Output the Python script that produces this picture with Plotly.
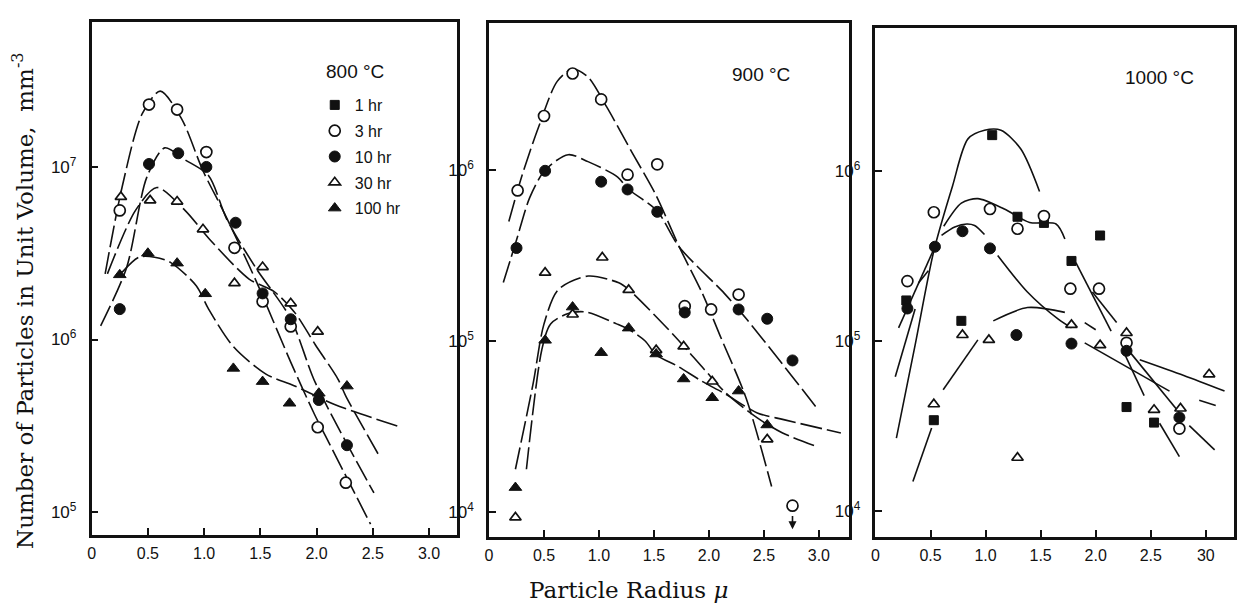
import math
import plotly.graph_objects as go

W, H = 1237, 608

# ---------------- 800 °C : measured points ----------------
p800_3hr_x = [0.25, 0.51, 0.76, 1.02, 1.27, 1.52, 1.77, 2.01, 2.26]
p800_3hr_y = [5.6e6, 2.3e7, 2.15e7, 1.22e7, 3.4e6, 1.66e6, 1.19e6, 3.1e5, 1.48e5]
p800_10hr_x = [0.25, 0.51, 0.77, 1.02, 1.28, 1.52, 1.77, 2.02, 2.27]
p800_10hr_y = [1.5e6, 1.04e7, 1.2e7, 1.0e7, 4.75e6, 1.85e6, 1.31e6, 4.46e5, 2.44e5]
p800_30hr_x = [0.26, 0.52, 0.76, 0.99, 1.27, 1.52, 1.77, 2.01]
p800_30hr_y = [6.7e6, 6.4e6, 6.3e6, 4.35e6, 2.12e6, 2.63e6, 1.62e6, 1.11e6]
p800_100hr_x = [0.25, 0.50, 0.76, 1.01, 1.26, 1.52, 1.76, 2.02, 2.27]
p800_100hr_y = [2.37e6, 3.16e6, 2.77e6, 1.84e6, 6.8e5, 5.7e5, 4.27e5, 4.88e5, 5.37e5]

# ---------------- 800 °C : hand-drawn curves ----------------
c800_3hr_x = [0.12, 0.27, 0.45, 0.61, 0.80, 0.99, 1.18, 1.46, 1.77, 1.98, 2.08, 2.48]
c800_3hr_y = [2.4e6, 7.6e6, 2.04e7, 2.75e7, 1.9e7, 9.5e6, 5.4e6, 2.2e6, 7.4e5, 3.7e5, 2.75e5, 8.5e4]
c800_10hr_x = [0.08, 0.31, 0.49, 0.65, 0.83, 1.04, 1.20, 1.46, 1.77, 1.99, 2.51]
c800_10hr_y = [1.2e6, 2.6e6, 8.7e6, 1.29e7, 1.1e7, 8.9e6, 5.0e6, 2.6e6, 1.32e6, 5.6e5, 1.29e5]
c800_30hr_x = [0.14, 0.39, 0.58, 0.83, 1.05, 1.40, 1.62, 1.80, 1.99, 2.19, 2.26, 2.56]
c800_30hr_y = [2.4e6, 5.6e6, 7.6e6, 5.6e6, 3.8e6, 2.24e6, 1.9e6, 1.45e6, 9.3e5, 5.9e5, 4.7e5, 2.1e5]
c800_100hr_x = [0.27, 0.42, 0.56, 0.70, 0.93, 1.04, 1.26, 1.55, 1.80, 2.16, 2.75]
c800_100hr_y = [2.45e6, 3.0e6, 3.0e6, 2.8e6, 2.05e6, 1.5e6, 9.1e5, 6.3e5, 5.4e5, 4.2e5, 3.1e5]

# ---------------- 900 °C : measured points ----------------
p900_3hr_x = [0.26, 0.50, 0.76, 1.02, 1.26, 1.53, 1.78, 2.02, 2.27, 2.76]
p900_3hr_y = [7.6e5, 2.07e6, 3.67e6, 2.59e6, 9.4e5, 1.08e6, 1.6e5, 1.53e5, 1.87e5, 1.09e4]
p900_10hr_x = [0.25, 0.51, 1.02, 1.26, 1.53, 1.78, 2.27, 2.53, 2.76]
p900_10hr_y = [3.5e5, 9.9e5, 8.55e5, 7.7e5, 5.7e5, 1.47e5, 1.53e5, 1.35e5, 7.7e4]
p900_30hr_x = [0.24, 0.51, 0.76, 1.03, 1.27, 1.52, 1.77, 2.03, 2.53]
p900_30hr_y = [9.3e3, 2.51e5, 1.43e5, 3.08e5, 1.99e5, 8.85e4, 9.3e4, 5.8e4, 2.66e4]
p900_100hr_x = [0.24, 0.51, 0.76, 1.02, 1.27, 1.52, 1.77, 2.03, 2.27, 2.53]
p900_100hr_y = [1.39e4, 1.01e5, 1.58e5, 8.55e4, 1.19e5, 8.4e4, 6.0e4, 4.66e4, 5.1e4, 3.23e4]

# ---------------- 900 °C : hand-drawn curves ----------------
c900_3hr_x = [0.18, 0.30, 0.45, 0.62, 0.76, 0.90, 1.07, 1.30, 1.52, 1.73, 1.94, 2.10, 2.34, 2.57]
c900_3hr_y = [5.0e5, 9.3e5, 1.78e6, 3.3e6, 3.9e6, 3.5e6, 2.34e6, 1.27e6, 7.1e5, 3.55e5, 1.9e5, 1.08e5, 4.6e4, 1.41e4]
c900_10hr_x = [0.13, 0.25, 0.37, 0.51, 0.72, 0.90, 1.17, 1.26, 1.53, 1.73, 2.14, 2.34, 2.98]
c900_10hr_y = [2.2e5, 3.9e5, 6.9e5, 1.0e6, 1.23e6, 1.12e6, 9.1e5, 7.8e5, 5.75e5, 3.55e5, 1.9e5, 1.35e5, 4.07e4]
c900_30hr_x = [0.24, 0.40, 0.50, 0.63, 0.90, 1.18, 1.27, 1.67, 1.96, 2.15, 2.44, 2.67, 2.99]
c900_30hr_y = [1.78e4, 5.6e4, 1.26e5, 2.0e5, 2.4e5, 2.19e5, 2.0e5, 1.1e5, 6.8e4, 5.0e4, 3.55e4, 2.9e4, 2.4e4]
c900_100hr_x = [0.34, 0.48, 0.56, 0.72, 0.88, 1.16, 1.27, 1.42, 1.52, 1.72, 1.92, 2.15, 2.44, 2.68, 3.20]
c900_100hr_y = [1.78e4, 8.9e4, 1.26e5, 1.45e5, 1.48e5, 1.26e5, 1.17e5, 1.0e5, 8.3e4, 7.1e4, 5.9e4, 4.9e4, 3.8e4, 3.47e4, 2.9e4]

# ---------------- 1000 °C : measured points ----------------
p1000_1hr_x = [0.28, 0.53, 0.78, 1.06, 1.29, 1.53, 1.78, 2.04, 2.28, 2.53]
p1000_1hr_y = [1.74e5, 3.44e4, 1.32e5, 1.63e6, 5.4e5, 4.97e5, 2.97e5, 4.19e5, 4.11e4, 3.33e4]
p1000_3hr_x = [0.29, 0.53, 1.04, 1.29, 1.53, 1.77, 2.03, 2.28, 2.76]
p1000_3hr_y = [2.26e5, 5.74e5, 6.0e5, 4.59e5, 5.45e5, 2.04e5, 2.04e5, 9.8e4, 3.07e4]
p1000_10hr_x = [0.29, 0.54, 0.79, 1.04, 1.28, 1.78, 2.28, 2.76]
p1000_10hr_y = [1.56e5, 3.6e5, 4.44e5, 3.52e5, 1.09e5, 9.7e4, 8.8e4, 3.57e4]
p1000_30hr_x = [0.53, 0.79, 1.03, 1.29, 1.78, 2.04, 2.28, 2.53, 2.77, 3.03]
p1000_30hr_y = [4.27e4, 1.09e5, 1.02e5, 2.07e4, 1.25e5, 9.5e4, 1.12e5, 3.96e4, 4.03e4, 6.4e4]

# ---------------- 1000 °C : hand-drawn curve pieces (None = gap) ----------------
c1000_1hr_x = [0.19, 0.36, 0.53, 0.70, 0.84, 0.99, 1.14, 1.32, 1.49, None, 1.82, 2.14, None, 2.26, 2.44, None, 2.58, 2.76]
c1000_1hr_y = [2.7e4, 9.5e4, 3.4e5, 8.2e5, 1.55e6, 1.74e6, 1.74e6, 1.35e6, 7.6e5, None, 2.9e5, 1.15e5, None, 8.5e4, 4.8e4, None, 3.3e4, 2.1e4]
c1000_3hr_x = [0.18, 0.36, None, 0.39, 0.48, None, 0.62, 0.78, 0.93, 1.17, 1.40, 1.64, 1.72, None, 1.97, 2.19, None, 2.85, 3.08]
c1000_3hr_y = [6.2e4, 1.55e5, None, 2.2e5, 2.6e5, None, 4.75e5, 6.5e5, 6.9e5, 6.0e5, 5.0e5, 4.9e5, 4.0e5, None, 1.95e5, 1.29e5, None, 3.2e4, 2.3e4]
c1000_10hr_x = [0.21, 0.54, None, 0.60, 0.72, 0.83, 0.90, 0.99, None, 1.11, 1.38, 1.66, 1.78, None, 1.90, 2.67, None, 2.32, 2.76]
c1000_10hr_y = [1.2e5, 3.6e5, None, 4.2e5, 4.7e5, 4.9e5, 4.8e5, 4.25e5, None, 3.2e5, 1.95e5, 1.35e5, 1.2e5, None, 9.8e4, 5.1e4, None, 8.5e4, 3.8e4]
c1000_30hr_x = [0.34, 0.51, None, 0.615, 0.93, None, 1.07, 1.38, 1.72, None, 1.90, 2.0, None, 2.40, 2.80, 3.17, None, 2.94, 3.09]
c1000_30hr_y = [1.5e4, 3.1e4, None, 5.2e4, 1.02e5, None, 1.32e5, 1.58e5, 1.48e5, None, 1.29e5, 1.17e5, None, 7.8e4, 6.3e4, 5.1e4, None, 4.5e4, 4.2e4]

# ---------------- tick labels / texts ----------------
x_tickvals = [0, 0.5, 1.0, 1.5, 2.0, 2.5, 3.0]
x_ticktext_a = ["0", "0.5", "1.0", "1.5", "2.0", "2.5", "3.0"]
x_ticktext_c = ["0", "0.5", "1.0", "1.5", "2.0", "2.5", "30"]
y_tickvals_800 = [1e5, 1e6, 1e7]
y_tickvals_900 = [1e4, 1e5, 1e6]
y_tickvals_1000 = [1e4, 1e5, 1e6]
series_names = ["1 hr", "3 hr", "10 hr", "30 hr", "100 hr"]
panel_titles = ["800 °C", "900 °C", "1000 °C"]

# ---------------- styles ----------------
INK = "#111111"
marker_style = {
    "1 hr": dict(symbol="square", size=9, color=INK, line=dict(color=INK, width=1)),
    "3 hr": dict(symbol="circle", size=11, color="white", line=dict(color=INK, width=1.7)),
    "10 hr": dict(symbol="circle", size=11, color=INK, line=dict(color=INK, width=1)),
    "30 hr": dict(symbol="triangle-up", size=10, color="white", line=dict(color=INK, width=1.7)),
    "100 hr": dict(symbol="triangle-up", size=11, color=INK, line=dict(color=INK, width=1)),
}

fig = go.Figure()

dash_line = dict(color=INK, width=1.6, dash="22px,5px", shape="spline", smoothing=0.8)
solid_line = dict(color=INK, width=1.6, shape="spline", smoothing=0.8)

curves = [
    ("x", "y", c800_3hr_x, c800_3hr_y, dash_line),
    ("x", "y", c800_10hr_x, c800_10hr_y, dash_line),
    ("x", "y", c800_30hr_x, c800_30hr_y, dash_line),
    ("x", "y", c800_100hr_x, c800_100hr_y, dash_line),
    ("x2", "y2", c900_3hr_x, c900_3hr_y, dash_line),
    ("x2", "y2", c900_10hr_x, c900_10hr_y, dash_line),
    ("x2", "y2", c900_30hr_x, c900_30hr_y, dash_line),
    ("x2", "y2", c900_100hr_x, c900_100hr_y, dash_line),
    ("x3", "y3", c1000_1hr_x, c1000_1hr_y, solid_line),
    ("x3", "y3", c1000_3hr_x, c1000_3hr_y, solid_line),
    ("x3", "y3", c1000_10hr_x, c1000_10hr_y, solid_line),
    ("x3", "y3", c1000_30hr_x, c1000_30hr_y, solid_line),
]
for xa, ya, cx, cy, ln in curves:
    fig.add_trace(go.Scatter(x=cx, y=cy, mode="lines", line=ln, xaxis=xa, yaxis=ya,
                             showlegend=False, hoverinfo="skip", connectgaps=False))

points = {
    "1 hr": [("x3", "y3", p1000_1hr_x, p1000_1hr_y)],
    "3 hr": [("x", "y", p800_3hr_x, p800_3hr_y), ("x2", "y2", p900_3hr_x, p900_3hr_y),
             ("x3", "y3", p1000_3hr_x, p1000_3hr_y)],
    "10 hr": [("x", "y", p800_10hr_x, p800_10hr_y), ("x2", "y2", p900_10hr_x, p900_10hr_y),
              ("x3", "y3", p1000_10hr_x, p1000_10hr_y)],
    "30 hr": [("x", "y", p800_30hr_x, p800_30hr_y), ("x2", "y2", p900_30hr_x, p900_30hr_y),
              ("x3", "y3", p1000_30hr_x, p1000_30hr_y)],
    "100 hr": [("x", "y", p800_100hr_x, p800_100hr_y), ("x2", "y2", p900_100hr_x, p900_100hr_y)],
}
for rank, name in enumerate(series_names):
    for i, (xa, ya, px, py) in enumerate(points[name]):
        fig.add_trace(go.Scatter(x=px, y=py, mode="markers", name=name, legendgroup=name,
                                 legendrank=rank + 1, showlegend=(i == 0),
                                 marker=marker_style[name], xaxis=xa, yaxis=ya))

# ---------------- axes ----------------
SANS = "Liberation Sans, Arial, sans-serif"
tick_font = dict(family=SANS, size=16, color=INK)


def sup_text(vals):
    return ["10<sup>%d</sup>" % round(math.log10(v)) for v in vals]


panels = [
    dict(xk="xaxis", yk="yaxis", xdom=(88, 455), ydom=(22, 535), xr=[0, 3.25], yr=[4.867, 7.84],
         yt=y_tickvals_800, xt=x_ticktext_a, anchor=("y", "x")),
    dict(xk="xaxis2", yk="yaxis2", xdom=(487, 848), ydom=(23, 537), xr=[0, 3.27], yr=[3.854, 6.86],
         yt=y_tickvals_900, xt=x_ticktext_a, anchor=("y2", "x2")),
    dict(xk="xaxis3", yk="yaxis3", xdom=(875, 1235), ydom=(28, 537), xr=[0, 3.256], yr=[3.85, 6.842],
         yt=y_tickvals_1000, xt=x_ticktext_c, anchor=("y3", "x3")),
]
layout_axes = {}
for p in panels:
    layout_axes[p["xk"]] = dict(
        domain=[p["xdom"][0] / W, p["xdom"][1] / W], range=p["xr"], anchor=p["anchor"][0],
        showline=True, linecolor=INK, linewidth=2.6, mirror=True, ticks="inside", ticklen=7,
        tickwidth=1.6, tickcolor=INK, tickvals=x_tickvals, ticktext=p["xt"], tickfont=tick_font,
        showgrid=False, zeroline=False, ticklabelstandoff=2)
    layout_axes[p["yk"]] = dict(
        domain=[1 - p["ydom"][1] / H, 1 - p["ydom"][0] / H], type="log", range=p["yr"],
        anchor=p["anchor"][1], showline=True, linecolor=INK, linewidth=2.6, mirror=True,
        ticks="inside", ticklen=7, tickwidth=1.6, tickcolor=INK, tickvals=p["yt"],
        ticktext=sup_text(p["yt"]), tickfont=dict(family=SANS, size=17, color=INK),
        showgrid=False, zeroline=False, ticklabelstandoff=9)

title_font = dict(family=SANS, size=19, color=INK)
serif_font = dict(family="DejaVu Serif, Liberation Serif, serif", size=23, color=INK)

annotations = [
    dict(text=panel_titles[0], x=352 / W, y=1 - 71 / H, xref="paper", yref="paper",
         showarrow=False, font=title_font, xanchor="center", yanchor="middle"),
    dict(text=panel_titles[1], x=760 / W, y=1 - 75 / H, xref="paper", yref="paper",
         showarrow=False, font=title_font, xanchor="center", yanchor="middle"),
    dict(text=panel_titles[2], x=1160 / W, y=1 - 77 / H, xref="paper", yref="paper",
         showarrow=False, font=title_font, xanchor="center", yanchor="middle"),
    dict(text="Number of Particles in Unit Volume,  mm<sup>-3</sup>", x=19 / W, y=1 - 300 / H,
         xref="paper", yref="paper", showarrow=False, textangle=-90, font=serif_font,
         xanchor="center", yanchor="middle"),
    dict(text="Particle Radius <i>μ</i>", x=627 / W, y=1 - 590 / H, xref="paper", yref="paper",
         showarrow=False, font=serif_font, xanchor="center", yanchor="middle"),
    # arrow below the 900 °C, 3 hr point at 2.75 (upper limit)
    dict(x=2.76, y=3.90, ax=2.76, ay=3.985, xref="x2", yref="y2", axref="x2", ayref="y2",
         text="", showarrow=True, arrowhead=2, arrowsize=1, arrowwidth=1.6, arrowcolor=INK),
]

fig.update_layout(
    width=W, height=H, margin=dict(l=0, r=0, t=0, b=0),
    paper_bgcolor="white", plot_bgcolor="white",
    showlegend=True,
    legend=dict(x=312 / W, y=1 - 88 / H, xanchor="left", yanchor="top",
                bgcolor="rgba(0,0,0,0)", borderwidth=0, traceorder="grouped",
                tracegroupgap=2, font=dict(family=SANS, size=16, color=INK)),
    annotations=annotations,
    **layout_axes,
)

fig.write_html("out.html")
